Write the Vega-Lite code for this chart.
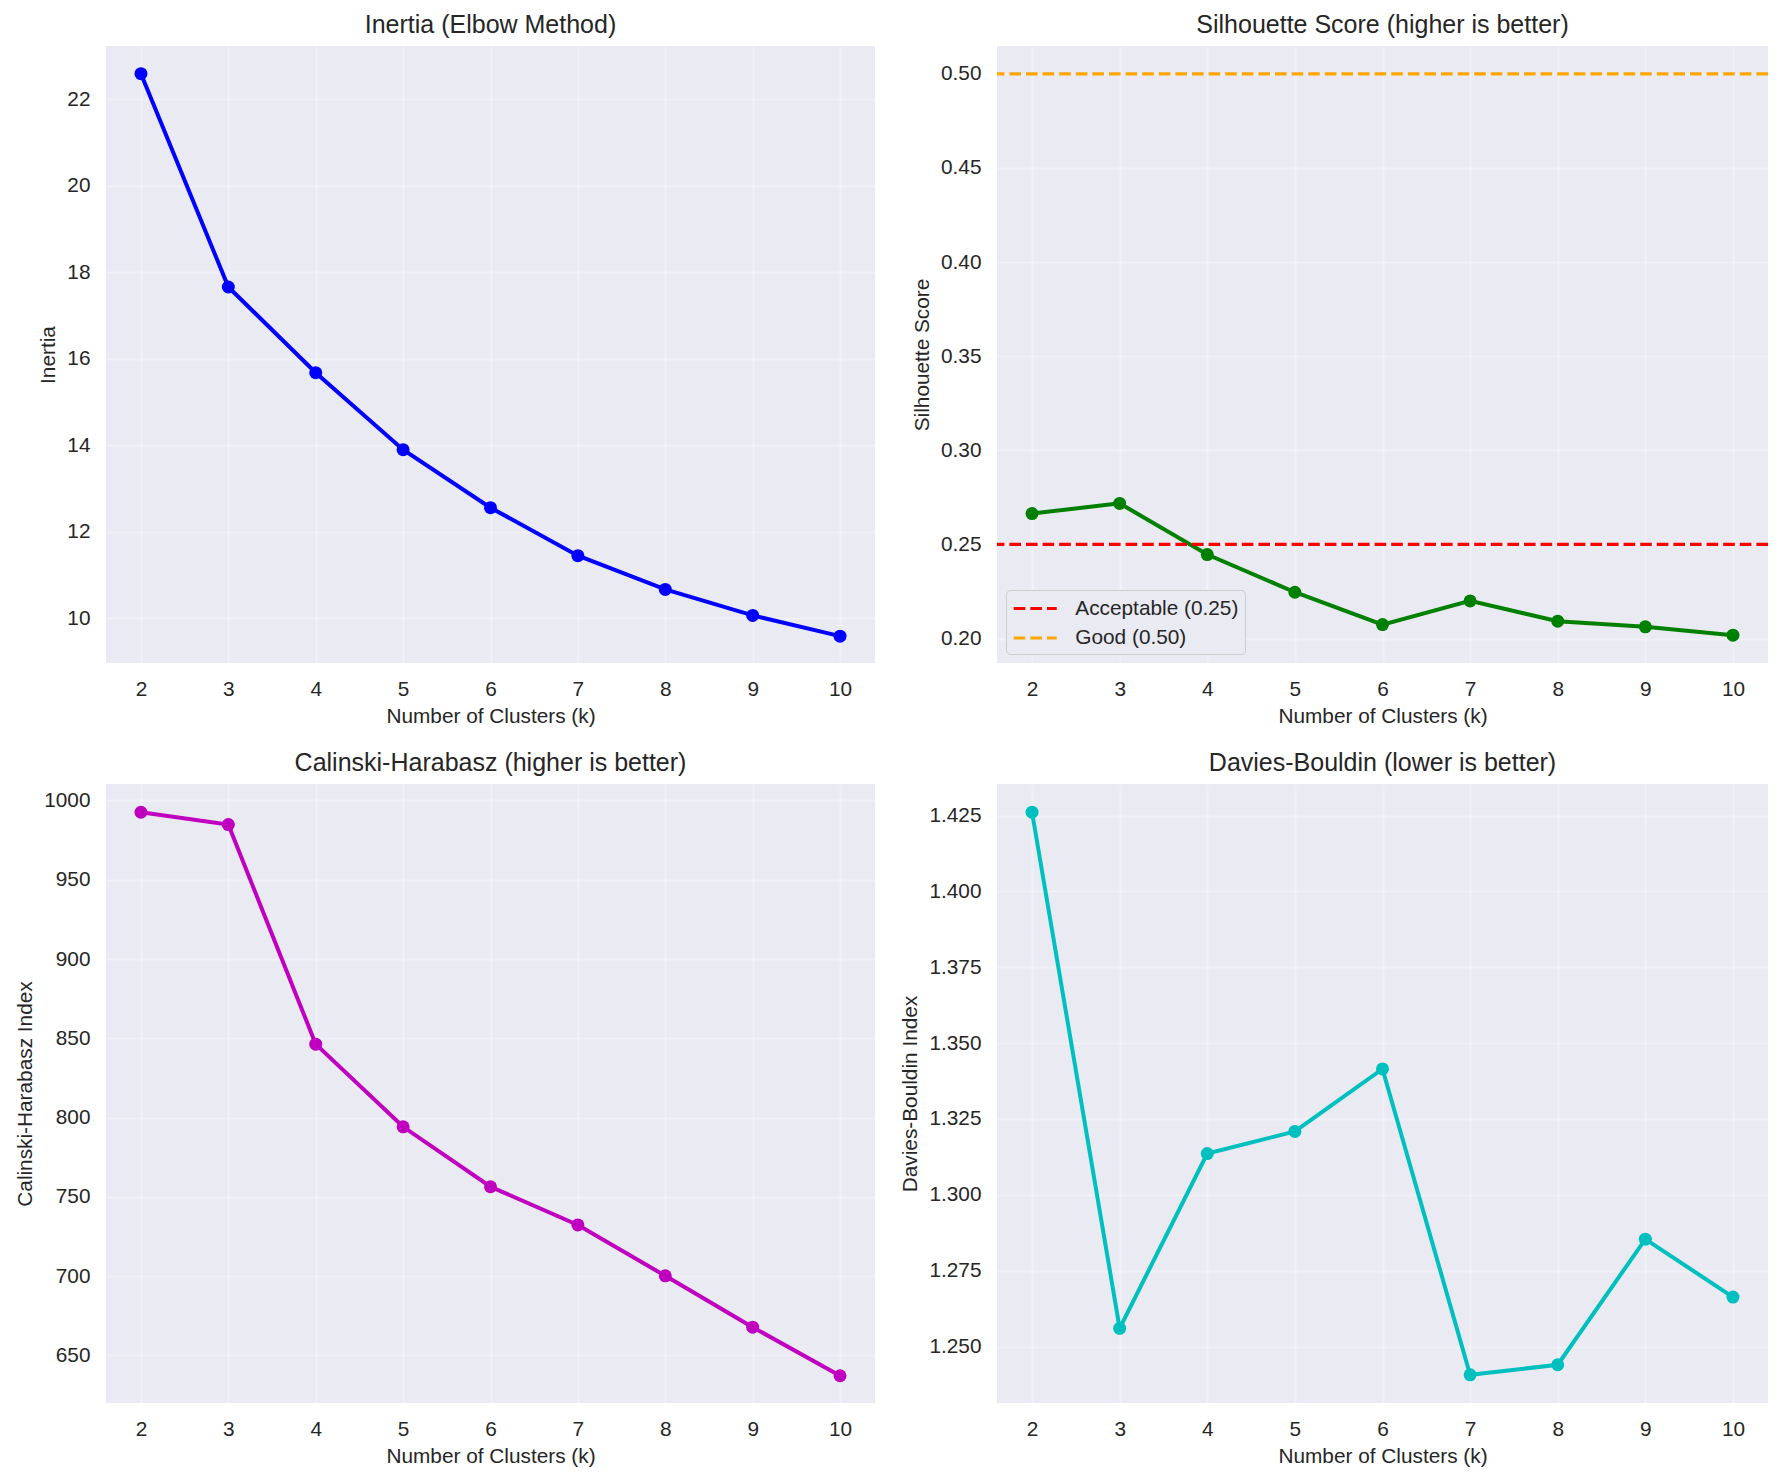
{
  "$schema": "https://vega.github.io/schema/vega-lite/v6.json",
  "background": "#FFFFFF",
  "padding": {"left": 14, "top": 13, "right": 5, "bottom": 5},
  "bounds": "flush",
  "columns": 2,
  "spacing": {"row": 121, "column": 122},
  "resolve": {"scale": {"color": "independent"}, "legend": {"color": "independent"}},
  "datasets": {
    "metrics": [
      {"k": 2, "inertia": 22.59, "silhouette": 0.2664, "calinski": 992.6, "davies": 1.4261},
      {"k": 3, "inertia": 17.66, "silhouette": 0.2718, "calinski": 984.8, "davies": 1.2560},
      {"k": 4, "inertia": 15.68, "silhouette": 0.2446, "calinski": 846.3, "davies": 1.3136},
      {"k": 5, "inertia": 13.90, "silhouette": 0.2246, "calinski": 794.2, "davies": 1.3209},
      {"k": 6, "inertia": 12.56, "silhouette": 0.2074, "calinski": 756.4, "davies": 1.3415},
      {"k": 7, "inertia": 11.45, "silhouette": 0.2200, "calinski": 732.3, "davies": 1.2407},
      {"k": 8, "inertia": 10.67, "silhouette": 0.2092, "calinski": 700.2, "davies": 1.2440},
      {"k": 9, "inertia": 10.07, "silhouette": 0.2062, "calinski": 667.8, "davies": 1.2854},
      {"k": 10, "inertia": 9.59, "silhouette": 0.2018, "calinski": 637.2, "davies": 1.2663}
    ],
    "thresholds": [
      {"label": "Acceptable (0.25)", "value": 0.25},
      {"label": "Good (0.50)", "value": 0.5}
    ]
  },
  "config": {
    "font": "Liberation Sans",
    "view": {"fill": "#EAEAF2", "stroke": null},
    "axis": {
      "grid": true,
      "gridColor": "#FFFFFF",
      "gridOpacity": 0.3,
      "gridWidth": 2,
      "domain": false,
      "ticks": false,
      "tickSize": 0,
      "labelFontSize": 20.8,
      "labelColor": "#262626",
      "labelPadding": 16,
      "labelFont": "Liberation Sans",
      "titleFont": "Liberation Sans",
      "titleFontSize": 20.8,
      "titleFontWeight": "normal",
      "titleColor": "#262626",
      "titlePadding": 8
    },
    "title": {
      "font": "Liberation Sans",
      "fontSize": 25,
      "fontWeight": "normal",
      "color": "#262626",
      "baseline": "alphabetic",
      "offset": 8
    }
  },
  "concat": [
    {
      "width": 769,
      "height": 617,
      "title": "Inertia (Elbow Method)",
      "data": {"name": "metrics"},
      "mark": {"type": "line", "color": "#0000FF", "strokeWidth": 4, "point": {"filled": true, "size": 169, "color": "#0000FF", "opacity": 1}},
      "encoding": {
        "x": {"field": "k", "type": "quantitative", "scale": {"domain": [1.6, 10.4], "nice": false, "zero": false}, "axis": {"values": [2, 3, 4, 5, 6, 7, 8, 9, 10], "format": "d", "title": "Number of Clusters (k)"}},
        "y": {"field": "inertia", "type": "quantitative", "scale": {"domain": [8.97, 23.23], "nice": false, "zero": false}, "axis": {"values": [10, 12, 14, 16, 18, 20, 22], "format": "d", "title": "Inertia"}}
      }
    },
    {
      "width": 771,
      "height": 617,
      "title": "Silhouette Score (higher is better)",
      "layer": [
        {
          "data": {"name": "metrics"},
          "mark": {"type": "line", "color": "#008000", "strokeWidth": 4, "point": {"filled": true, "size": 169, "color": "#008000", "opacity": 1}},
          "encoding": {
            "x": {"field": "k", "type": "quantitative", "scale": {"domain": [1.6, 10.4], "nice": false, "zero": false}, "axis": {"values": [2, 3, 4, 5, 6, 7, 8, 9, 10], "format": "d", "title": "Number of Clusters (k)"}},
            "y": {"field": "silhouette", "type": "quantitative", "scale": {"domain": [0.187, 0.5148], "nice": false, "zero": false}, "axis": {"values": [0.2, 0.25, 0.3, 0.35, 0.4, 0.45, 0.5], "format": ".2f", "title": "Silhouette Score"}}
          }
        },
        {
          "data": {"name": "thresholds"},
          "mark": {"type": "rule", "strokeWidth": 3.1, "strokeDash": [11.6, 5]},
          "encoding": {
            "y": {"field": "value", "type": "quantitative"},
            "color": {
              "field": "label",
              "type": "nominal",
              "scale": {"domain": ["Acceptable (0.25)", "Good (0.50)"], "range": ["#FF0000", "#FFA500"]},
              "legend": {
                "title": null,
                "orient": "bottom-left",
                "offset": 9,
                "direction": "vertical",
                "fillColor": "#EAEAF2",
                "strokeColor": "#CCCCCC",
                "cornerRadius": 4,
                "padding": 6,
                "symbolType": "M-1,0H3",
                "symbolStrokeWidth": 3.1,
                "symbolDash": [11.6, 5],
                "symbolSize": 462,
                "labelFontSize": 20.8,
                "labelColor": "#262626",
                "labelFont": "Liberation Sans",
                "labelOffset": 38.3,
                "labelLimit": 400,
                "rowPadding": 6.5
              }
            }
          }
        }
      ]
    },
    {
      "width": 769,
      "height": 619,
      "title": "Calinski-Harabasz (higher is better)",
      "data": {"name": "metrics"},
      "mark": {"type": "line", "color": "#BF00BF", "strokeWidth": 4, "point": {"filled": true, "size": 169, "color": "#BF00BF", "opacity": 1}},
      "encoding": {
        "x": {"field": "k", "type": "quantitative", "scale": {"domain": [1.6, 10.4], "nice": false, "zero": false}, "axis": {"values": [2, 3, 4, 5, 6, 7, 8, 9, 10], "format": "d", "title": "Number of Clusters (k)"}},
        "y": {"field": "calinski", "type": "quantitative", "scale": {"domain": [620, 1010.4], "nice": false, "zero": false}, "axis": {"values": [650, 700, 750, 800, 850, 900, 950, 1000], "format": "d", "title": "Calinski-Harabasz Index"}}
      }
    },
    {
      "width": 771,
      "height": 619,
      "title": "Davies-Bouldin (lower is better)",
      "data": {"name": "metrics"},
      "mark": {"type": "line", "color": "#00BFBF", "strokeWidth": 4, "point": {"filled": true, "size": 169, "color": "#00BFBF", "opacity": 1}},
      "encoding": {
        "x": {"field": "k", "type": "quantitative", "scale": {"domain": [1.6, 10.4], "nice": false, "zero": false}, "axis": {"values": [2, 3, 4, 5, 6, 7, 8, 9, 10], "format": "d", "title": "Number of Clusters (k)"}},
        "y": {"field": "davies", "type": "quantitative", "scale": {"domain": [1.2314, 1.4354], "nice": false, "zero": false}, "axis": {"values": [1.25, 1.275, 1.3, 1.325, 1.35, 1.375, 1.4, 1.425], "format": ".3f", "title": "Davies-Bouldin Index"}}
      }
    }
  ]
}
